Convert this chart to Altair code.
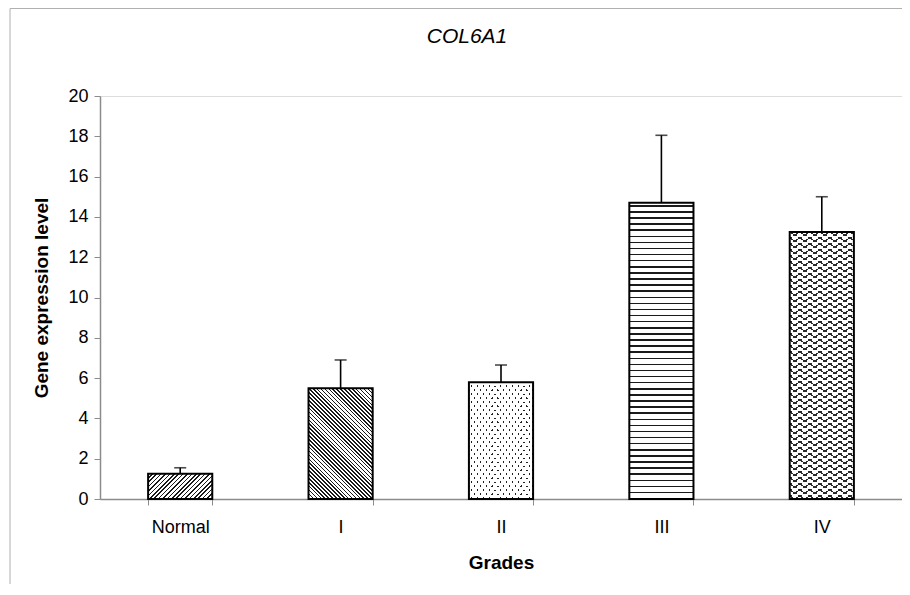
import math
import pandas as pd
import altair as alt

# ---- data ----
grades = ["Normal", "I", "II", "III", "IV"]
means = [1.25, 5.5, 5.8, 14.7, 13.25]
errors = [0.3, 1.4, 0.85, 3.35, 1.75]
y_ticks = [0, 2, 4, 6, 8, 10, 12, 14, 16, 18, 20]
chart_title = "COL6A1"

df = pd.DataFrame({"grade": grades, "mean": means, "err": errors})
df["upper"] = df["mean"] + df["err"]

# ---- layout ----
W, H = 802, 403
PAD = {"left": 92, "top": 88, "right": 0, "bottom": 85}
Y_MAX = 20
P_INNER, P_OUTER = 0.6, 0.3
step = W / (len(grades) - P_INNER + 2 * P_OUTER)
bar_w = step * (1 - P_INNER)


def bar_h(v):
    return v * H / Y_MAX


def stripes(w, h, nx, ny, period, lw, line_col, bg_col, phase=0.0):
    """Linear gradient (bounding-box units) that draws parallel stripes."""
    L = math.hypot(nx, ny)
    nx, ny = nx / L, ny / L
    p1u = 1.0 if nx < 0 else 0.0
    p1v = 1.0 if ny < 0 else 0.0
    D = abs(w * nx) + abs(h * ny)
    s = D / ((w * nx) ** 2 + (h * ny) ** 2)
    x2 = p1u + s * w * nx
    y2 = p1v + s * h * ny
    base = p1u * w * nx + p1v * h * ny
    stops = [alt.GradientStop(color=bg_col, offset=0)]
    k0 = math.floor((base - phase) / period) - 1
    k1 = math.ceil((base + D - phase) / period) + 1
    for k in range(k0, k1 + 1):
        c = phase + k * period
        ta = (c - lw / 2 - base) / D
        tb = (c + lw / 2 - base) / D
        if tb <= 0 or ta >= 1:
            continue
        ta = round(max(ta, 0.0), 5)
        tb = round(min(tb, 1.0), 5)
        stops += [
            alt.GradientStop(color=bg_col, offset=ta),
            alt.GradientStop(color=line_col, offset=ta),
            alt.GradientStop(color=line_col, offset=tb),
            alt.GradientStop(color=bg_col, offset=tb),
        ]
    stops.append(alt.GradientStop(color=bg_col, offset=1))
    return alt.LinearGradient(gradient="linear", stops=stops,
                              x1=p1u, y1=p1v, x2=x2, y2=y2)


CLEAR = "rgba(255,255,255,0)"
INK = "#1a1a1a"
FONT = "Liberation Sans"

x_enc = alt.X("grade:N", sort=grades,
              scale=alt.Scale(domain=grades, paddingInner=P_INNER, paddingOuter=P_OUTER),
              axis=alt.Axis(title="Grades", labelAngle=0, tickBand="extent",
                            tickSize=6, tickColor="#8c8c8c", domainColor="#8c8c8c",
                            domainWidth=1.5, labelFontSize=18, labelColor="black",
                            labelPadding=13, titleFontSize=19, titleFontWeight="bold",
                            titleColor="black", titlePadding=17, labelFont=FONT,
                            titleFont=FONT))
y_enc = alt.Y("mean:Q", scale=alt.Scale(domain=[0, Y_MAX], nice=False),
              axis=alt.Axis(title="Gene expression level", values=y_ticks, grid=False,
                            tickSize=6, tickColor="#8c8c8c", domainColor="#8c8c8c",
                            domainWidth=1.5, labelFontSize=18, labelColor="black",
                            labelPadding=6, titleFontSize=19, titleFontWeight="bold",
                            titleColor="black", titlePadding=16, labelFont=FONT,
                            titleFont=FONT))

base = alt.Chart(df)


def bar_layer(g, fill):
    return base.transform_filter(alt.datum.grade == g).mark_bar(
        fill=fill, strokeWidth=0).encode(x=x_enc, y=y_enc)


layers = []
hv = dict(zip(grades, [bar_h(v) for v in means]))

# Normal: "/" hatch
layers.append(bar_layer("Normal", stripes(bar_w, hv["Normal"], 1, 1, 4.4 / math.sqrt(2), 1.15, INK, "white")))
# I: "\" hatch, denser
layers.append(bar_layer("I", stripes(bar_w, hv["I"], 1, -1, 3.9 / math.sqrt(2), 1.1, INK, "white")))
# II: staggered dots (dark base, two white masks with clear slits)
a_d, P_d = 1.38, 5.8
Ld = math.hypot(a_d, 1)
layers.append(bar_layer("II", "#222222"))
layers.append(bar_layer("II", stripes(bar_w, hv["II"], a_d, 1, a_d * P_d / Ld, 1.45, CLEAR, "white")))
layers.append(bar_layer("II", stripes(bar_w, hv["II"], a_d, -1, a_d * P_d / Ld, 1.45, CLEAR, "white")))
# III: horizontal lines
layers.append(bar_layer("III", stripes(bar_w, hv["III"], 0, 1, 6.1, 1.5, INK, "white", phase=3.0)))
# IV: waves (zigzag from crossing stripes, alternate rows masked)
a_w, P_w, lw_w = 0.6, 10.0, 1.0
Lw = math.hypot(a_w, 1)
row = a_w * P_w
layers.append(bar_layer("IV", "white"))
layers.append(bar_layer("IV", stripes(bar_w, hv["IV"], a_w, 1, row / Lw, lw_w, "#2a2a2a", CLEAR)))
layers.append(bar_layer("IV", stripes(bar_w, hv["IV"], a_w, -1, row / Lw, lw_w, "#2a2a2a", CLEAR)))
layers.append(bar_layer("IV", stripes(bar_w, hv["IV"], 0, 1, row, row / 2 - lw_w * Lw, "white", CLEAR,
                                      phase=0.75 * row)))

# outlines
outline = base.mark_bar(fill="transparent", stroke="black", strokeWidth=2).encode(x=x_enc, y=y_enc)
# error bars
err_rule = base.mark_rule(color="black", strokeWidth=1.6).encode(
    x=alt.X("grade:N", sort=grades), y="mean:Q", y2="upper:Q")
err_cap = base.mark_tick(color="black", thickness=1.6, size=12).encode(
    x=alt.X("grade:N", sort=grades), y="upper:Q")

# chart-area border (light frame, like the original spreadsheet chart) and the title
deco_df = pd.DataFrame({"label": [chart_title]})
frame_left = alt.Chart(deco_df).mark_rule(color="#b0b0b0", strokeWidth=1).encode(
    x=alt.value(-90), y=alt.value(-87.5), y2=alt.value(H + PAD["bottom"]))
frame_top = alt.Chart(deco_df).mark_rule(color="#b0b0b0", strokeWidth=1).encode(
    x=alt.value(-90), x2=alt.value(W), y=alt.value(-87.5))
title_mark = alt.Chart(deco_df).mark_text(
    font=FONT, fontSize=21, fontStyle="italic", color="black", align="center",
    baseline="alphabetic").encode(text="label:N", x=alt.value(367), y=alt.value(-53))

chart = alt.layer(*layers, outline, err_rule, err_cap, frame_left, frame_top, title_mark).properties(
    width=W, height=H,
    autosize=alt.AutoSizeParams(type="none"),
    padding=PAD,
).configure_view(stroke="#8c8c8c", strokeWidth=1.5).configure(background="white")

chart.save("out.html", embed_options={"renderer": "svg", "actions": False})
